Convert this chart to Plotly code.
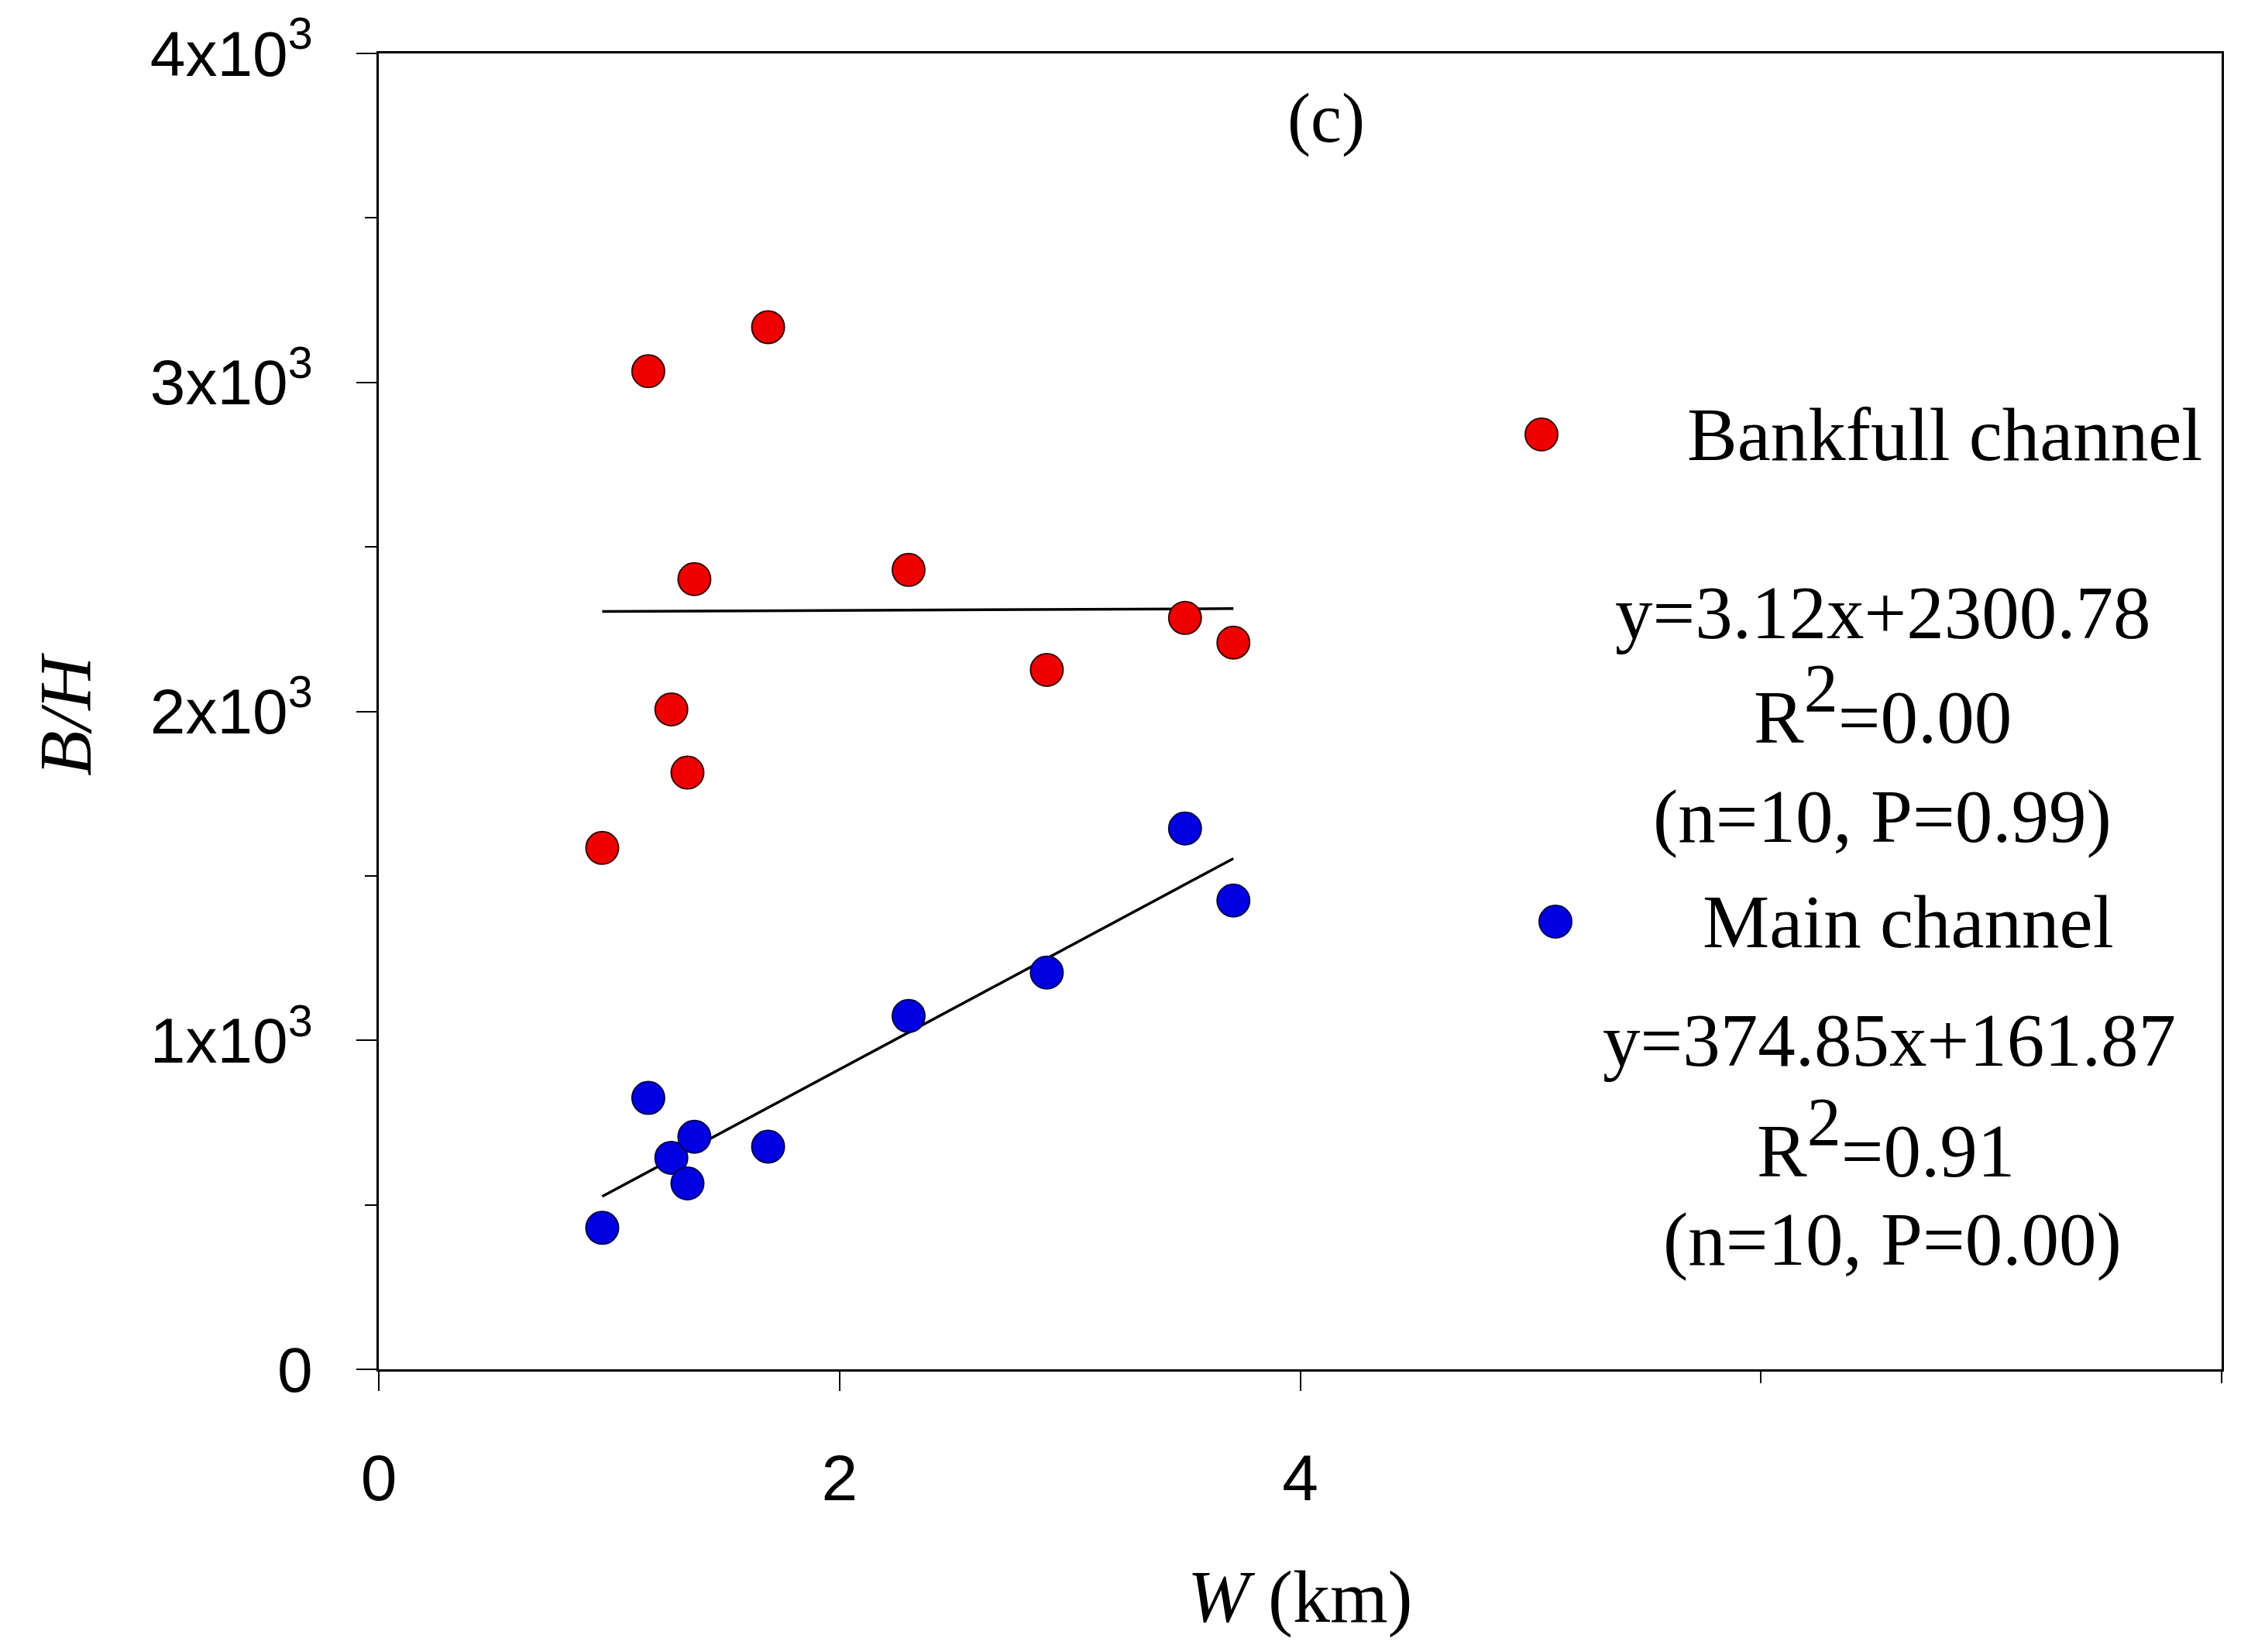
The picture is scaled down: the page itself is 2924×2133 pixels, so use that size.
import plotly.graph_objects as go
import numpy as np

# ---- data ----
w_km = [0.97, 1.17, 1.69, 1.37, 2.30, 1.27, 1.34, 2.90, 3.50, 3.71]
bankfull_bh = [1585, 3034, 3168, 2402, 2430, 2006, 1814, 2126, 2284, 2209]
w_km_main = [0.97, 1.17, 1.27, 1.37, 1.34, 1.69, 2.30, 2.90, 3.50, 3.71]
main_bh = [430, 825, 643, 707, 565, 677, 1074, 1206, 1644, 1425]

bank_fit = (3.12, 2300.78)
main_fit = (374.85, 161.87)

y_tickvals = [0, 1000, 2000, 3000, 4000]
y_ticktext = ["0", "1x10<sup>3</sup>", "2x10<sup>3</sup>", "3x10<sup>3</sup>", "4x10<sup>3</sup>"]
x_tickvals = [0, 2, 4]
x_ticktext = ["0", "2", "4"]

W, H = 2924, 2133
OFF = 8  # page body margin
# desired plot area in page pixels: x 489..2868, y 69..1768
L = 489 - OFF
T = 69 - OFF
R = W - (2868 - OFF)
B = H - (1768 - OFF)
PW, PH = W - L - R, H - T - B

def px(X):
    return (X - OFF - L) / PW

def py(Y):
    return (H - B - (Y - OFF)) / PH

SERIF = "Liberation Serif, Times New Roman, serif"
SANS = "Liberation Sans, Arial, sans-serif"
RED = "#ee0000"
BLUE = "#0000e0"

fig = go.Figure()

# fit lines
for xs, (a, b) in [(w_km, bank_fit), (w_km_main, main_fit)]:
    xl = np.array([min(xs), max(xs)])
    fig.add_trace(go.Scatter(x=xl, y=a * xl + b, mode="lines",
                             line=dict(color="black", width=3.5),
                             showlegend=False, hoverinfo="skip"))

fig.add_trace(go.Scatter(x=w_km, y=bankfull_bh, mode="markers", name="Bankfull channel",
                         marker=dict(size=42, color=RED, line=dict(color="#3a0000", width=2)),
                         showlegend=False))
fig.add_trace(go.Scatter(x=w_km_main, y=main_bh, mode="markers", name="Main channel",
                         marker=dict(size=42, color=BLUE, line=dict(color="#000050", width=2)),
                         showlegend=False))

fig.update_layout(
    width=W, height=H,
    margin=dict(l=L, r=R, t=T, b=B, autoexpand=False),
    paper_bgcolor="white", plot_bgcolor="white",
)

fig.update_xaxes(range=[0, 8], showgrid=False, zeroline=False,
                 showline=True, linecolor="black", linewidth=3, mirror=True,
                 ticks="outside", ticklen=25, tickwidth=2, tickcolor="black",
                 tickvals=x_tickvals, ticktext=x_ticktext,
                 tickfont=dict(family=SANS, size=84, color="black"),
                 ticklabelstandoff=40,
                 minor=dict(tickvals=[6, 8], ticks="outside", ticklen=15, tickwidth=2, tickcolor="black"))
fig.update_yaxes(range=[0, 4000], showgrid=False, zeroline=False,
                 showline=True, linecolor="black", linewidth=3, mirror=True,
                 ticks="outside", ticklen=26, tickwidth=2, tickcolor="black",
                 tickvals=y_tickvals, ticktext=y_ticktext,
                 tickfont=dict(family=SANS, size=82, color="black"),
                 ticklabelstandoff=40,
                 minor=dict(tickvals=[500, 1500, 2500, 3500], ticks="outside", ticklen=15, tickwidth=2, tickcolor="black"))

ann = []
def text(X, Y, s, size=96, xanchor="center", angle=0):
    ann.append(dict(x=px(X), y=py(Y), xref="paper", yref="paper", text=s, showarrow=False,
                    xanchor=xanchor, yanchor="middle", textangle=angle,
                    font=dict(family=SERIF, size=size, color="black")))

SUP2 = "<sup><span style='font-size:88px'>2</span></sup>"

text(1712, 153, "(c)", 90)
text(1678, 2061, "<i>W</i> (km)", 96)
text(84, 923, "<i>B/H</i>", 96, angle=-90)

text(2176, 561, "Bankfull channel", 97, xanchor="left")
text(2430, 791, "y=3.12x+2300.78", 97)
text(2430, 910, "R" + SUP2 + "=0.00", 97)
text(2430, 1054, "(n=10, P=0.99)", 97)
text(2196, 1190, "Main channel", 97, xanchor="left")
text(2439, 1343, "y=374.85x+161.87", 97)
text(2434, 1470, "R" + SUP2 + "=0.91", 97)
text(2443, 1600, "(n=10, P=0.00)", 97)
fig.update_layout(annotations=ann)

shapes = []
for (X, Y, c, lc) in [(1990, 561, RED, "#3a0000"), (2008, 1190, BLUE, "#000050")]:
    shapes.append(dict(type="circle", xref="paper", yref="paper",
                       xsizemode="pixel", ysizemode="pixel",
                       xanchor=px(X), yanchor=py(Y), x0=-21, x1=21, y0=-21, y1=21,
                       fillcolor=c, line=dict(color=lc, width=2)))
fig.update_layout(shapes=shapes)

fig.write_html("out.html")
